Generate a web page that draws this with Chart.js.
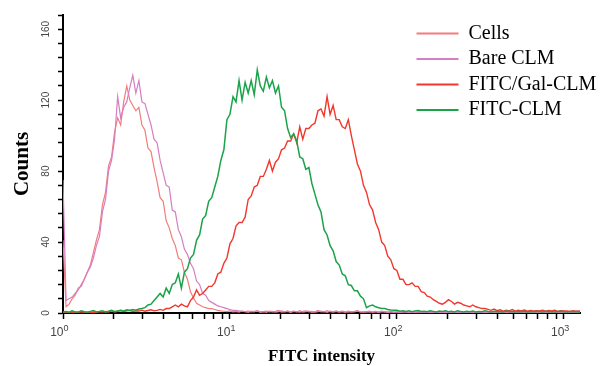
<!DOCTYPE html>
<html>
<head>
<meta charset="utf-8">
<script src="https://cdn.jsdelivr.net/npm/chart.js@4"></script>
<style>
  html, body { margin: 0; padding: 0; background: #fff; }
  #wrap { width: 607px; height: 366px; }
</style>
</head>
<body>
<div id="wrap"><canvas id="histogram" width="607" height="366"></canvas></div>
<script>
// FITC channel intensity, 55 channels per decade
const intensity = [
  1, 1.043, 1.087, 1.134, 1.182, 1.233, 1.286, 1.341, 1.398, 1.458,
  1.520, 1.585, 1.653, 1.723, 1.797, 1.874, 1.954, 2.037, 2.125, 2.215,
  2.310, 2.409, 2.512, 2.619, 2.731, 2.848, 2.970, 3.097, 3.229, 3.367,
  3.511, 3.661, 3.818, 3.981, 4.151, 4.329, 4.514, 4.707, 4.908, 5.118,
  5.336, 5.565, 5.802, 6.051, 6.310, 6.579, 6.860, 7.154, 7.460, 7.779,
  8.111, 8.458, 8.819, 9.196, 9.590, 10.00, 10.43, 10.87, 11.34, 11.82,
  12.33, 12.86, 13.41, 13.98, 14.58, 15.20, 15.85, 16.53, 17.23, 17.97,
  18.74, 19.54, 20.37, 21.25, 22.15, 23.10, 24.09, 25.12, 26.19, 27.31,
  28.48, 29.70, 30.97, 32.29, 33.67, 35.11, 36.61, 38.18, 39.81, 41.51,
  43.29, 45.14, 47.07, 49.08, 51.18, 53.36, 55.65, 58.02, 60.51, 63.10,
  65.79, 68.61, 71.54, 74.60, 77.79, 81.11, 84.58, 88.19, 91.96, 95.90,
  100.0, 104.3, 108.7, 113.4, 118.2, 123.3, 128.6, 134.1, 139.8, 145.8,
  152.0, 158.5, 165.3, 172.3, 179.7, 187.4, 195.4, 203.7, 212.5, 221.5,
  231.0, 240.9, 251.2, 261.9, 273.1, 284.8, 297.0, 309.7, 322.9, 336.7,
  351.1, 366.1, 381.8, 398.1, 415.1, 432.9, 451.4, 470.7, 490.8, 511.8,
  533.6, 556.5, 580.2, 605.1, 631.0, 657.9, 686.0, 715.4, 746.0, 777.9,
  811.1, 845.8, 881.9, 919.6, 959.0, 1000, 1043, 1087, 1134, 1182,
  1233, 1286
];

const cells = [
  41, 3.5, 5, 8, 10, 14, 15, 19, 23, 27,
  34, 41, 47, 61, 68, 83, 88, 102, 110, 106,
  119, 128, 120, 117, 114, 116, 106, 103, 93, 91,
  82, 74, 65, 63, 52, 48, 42, 38, 31, 30,
  23, 19, 12, 8.5, 5.5, 4.5, 3.5, 3, 2.5, 2.5,
  2, 1.5, 1.2, 1, 0.8, 1.2, 0.6, 0.9, 0.5, 1.1,
  0.7, 0.4, 1.0, 0.6, 1.3, 0.5, 0.8, 0.4, 1.1, 0.6,
  0.9, 1.4, 0.5, 0.7, 1.2, 0.4, 0.9, 0.6, 1.3, 0.5,
  0.8, 1.1, 0.4, 0.7, 1.5, 0.6, 0.9, 0.4, 1.0, 0.7,
  1.2, 0.5, 0.8, 0.4, 1.1, 0.6, 0.9, 1.3, 0.5, 0.7,
  0.6, 1.0, 0.4, 0.8, 0.5, 1.1, 0.6, 0.4, 0.9, 0.5,
  0.7, 0.4, 0.8, 0.5, 0.3, 0.6, 0.4, 0.7, 0.3, 0.5,
  0.4, 0.6, 0.3, 0.5, 0.4, 0.3, 0.6, 0.4, 0.3, 0.5,
  0.3, 0.4, 0.3, 0.5, 0.3, 0.4, 0.3, 0.3, 0.4, 0.3,
  0.3, 0.4, 0.3, 0.3, 0.4, 0.3, 0.3, 0.3, 0.4, 0.3,
  0.3, 0.3, 0.4, 0.3, 0.3, 0.3, 0.3, 0.4, 0.3, 0.3,
  0.3, 0.3, 0.4, 0.3, 0.3, 0.3, 0.3, 0.3, 0.4, 0.3,
  0.3, 0.3
];

const bareClm = [
  75, 7, 8, 9, 11, 13, 16, 19, 23, 26,
  31, 38, 43, 57, 64, 80, 86, 98, 122, 110,
  116, 119, 127, 134, 124, 131, 119, 118, 112, 106,
  98, 96, 86, 79, 72, 71, 58, 57, 47, 43,
  36, 33, 28, 25, 18, 16, 11, 10, 7, 6,
  5, 4, 3.5, 3, 2.5, 2, 1.5, 1.5, 1.2, 1.0,
  0.8, 1.1, 0.6, 0.9, 1.2, 0.5, 0.8, 1.0, 0.6, 0.9,
  0.5, 0.8, 1.2, 0.6, 0.9, 0.5, 1.1, 0.7, 0.5, 0.9,
  1.2, 0.6, 0.9, 0.5, 0.8, 1.0, 0.6, 1.3, 0.7, 0.5,
  0.9, 0.6, 1.1, 0.7, 0.5, 0.8, 0.6, 1.0, 0.7, 0.5,
  0.8, 0.5, 0.7, 0.9, 0.4, 0.6, 0.8, 0.5, 0.6, 0.4,
  0.6, 0.4, 0.5, 0.7, 0.4, 0.5, 0.3, 0.6, 0.4, 0.5,
  0.3, 0.5, 0.4, 0.3, 0.5, 0.3, 0.4, 0.3, 0.5, 0.3,
  0.4, 0.3, 0.3, 0.4, 0.3, 0.3, 0.4, 0.3, 0.3, 0.3,
  0.4, 0.3, 0.3, 0.3, 0.4, 0.3, 0.3, 0.3, 0.3, 0.4,
  0.3, 0.3, 0.3, 0.3, 0.3, 0.4, 0.3, 0.3, 0.3, 0.4,
  0.3, 0.3, 0.3, 0.4, 0.3, 0.3, 0.3, 0.3, 0.3, 0.3,
  0.3, 0.3
];

const fitcGalClm = [
  0.3, 0.5, 0.3, 0.6, 0.4, 0.3, 0.7, 0.4, 0.5, 0.3,
  0.6, 0.4, 0.8, 0.5, 0.9, 0.6, 1.2, 0.7, 1.0, 1.4,
  0.8, 1.2, 1.5, 0.9, 1.3, 1.1, 1.6, 1.0, 1.4, 1.8,
  1.2, 1.5, 2.0, 1.5, 2.5, 2.5, 3.5, 4.5, 3.5, 5.0,
  4.0, 3.5, 7.0, 9.0, 13, 10, 11, 13, 15, 15,
  17, 22, 23, 28, 31, 39, 42, 49, 51, 51,
  54, 64, 66, 71, 72, 77, 77, 81, 86, 80,
  85, 87, 92, 93, 97, 97, 101, 96, 105, 98,
  104, 104, 106, 107, 114, 115, 111, 122, 112, 117,
  109, 109, 105, 104, 109, 100, 92, 84, 80, 72,
  68, 61, 58, 51, 47, 40, 38, 32, 30, 25,
  24, 19, 19, 16, 16, 17, 15, 15, 12, 11.5,
  9.5, 9, 7.5, 6.5, 5.5, 5, 6, 7.5, 6.5, 5,
  6, 5.5, 4.5, 4, 3.5, 4.5, 3.5, 3, 2.5, 2.5,
  2, 1.5, 2.2, 1.3, 1.8, 1.1, 1.6, 1.2, 1.9, 1.0,
  1.5, 1.2, 1.7, 1.0, 1.4, 1.1, 1.3, 1.2, 1.6, 1.0,
  1.4, 1.1, 1.5, 0.9, 1.3, 1.1, 1.2, 0.9, 1.3, 1.0,
  1.2, 1.1
];

const fitcClm = [
  0.5, 0.8, 0.4, 1.2, 0.6, 0.5, 1.3, 0.7, 0.4, 0.9,
  1.4, 0.6, 0.8, 1.2, 0.5, 1.0, 1.5, 0.7, 1.1, 1.6,
  1.2, 1.8, 1.4, 2.0, 1.6, 2.2, 2.5, 3.0, 4.5, 5.0,
  7, 9, 11, 9, 14, 11, 16, 17, 22, 14,
  23, 25, 31, 33, 41, 44, 53, 55, 63, 65,
  71, 77, 86, 92, 109, 112, 122, 119, 131, 120,
  130, 124, 131, 123, 137, 128, 125, 133, 127, 131,
  124, 128, 116, 114, 104, 99, 101, 97, 88, 87,
  81, 82, 73, 67, 61, 57, 47, 44, 38, 35,
  29, 27, 22, 21, 16, 15.5, 12.5, 12.5, 9.5, 8,
  3, 4, 4.5, 3.5, 3, 2.5, 2.5, 2, 1.7, 1.5,
  1.5, 1.0, 1.3, 0.8, 1.2, 0.7, 1.1, 1.4, 0.8, 1.0,
  0.7, 1.2, 0.9, 0.6, 1.1, 0.8, 1.3, 0.7, 1.0, 0.6,
  1.2, 0.8, 0.6, 1.0, 0.7, 1.1, 0.6, 0.9, 0.7, 1.2,
  0.8, 0.6, 1.0, 0.7, 0.9, 0.6, 1.1, 0.7, 0.8, 0.6,
  0.9, 0.7, 1.0, 0.6, 0.8, 0.7, 0.9, 0.8, 0.6, 1.0,
  0.7, 0.9, 0.6, 0.8, 1.0, 0.7, 0.6, 0.9, 0.7, 0.8,
  0.6, 0.8
];

const xTickValues = [
  1, 2, 3, 4, 5, 6, 7, 8, 9,
  10, 20, 30, 40, 50, 60, 70, 80, 90,
  100, 200, 300, 400, 500, 600, 700, 800, 900,
  1000
];
const xDecades = [1, 10, 100, 1000];
const xExponents = ['0', '1', '2', '3'];
const yTickLabels = [0, 40, 80, 120, 160];

const toPoints = (ys) => intensity.map((x, i) => ({ x: x, y: ys[i] }));

// put the legend in the upper right corner of the plot
const legendMover = {
  id: 'legendMover',
  afterLayout(chart) {
    const lg = chart.legend;
    if (!lg) return;
    const w = lg.width, h = lg.height;
    lg.left = 411;
    lg.top = 18;
    lg.right = lg.left + w;
    lg.bottom = lg.top + h;
  }
};

// x labels as 10 with a raised exponent
const decadeLabels = {
  id: 'decadeLabels',
  afterDraw(chart) {
    const xs = chart.scales.x;
    const c = chart.ctx;
    const y = xs.top + 23;
    c.save();
    c.fillStyle = '#444';
    c.textBaseline = 'alphabetic';
    xDecades.forEach((v, i) => {
      const px = xs.getPixelForValue(v);
      c.font = '12px "Liberation Sans"';
      c.textAlign = 'right';
      c.fillText('10', px + 0.5, y);
      c.font = '9px "Liberation Sans"';
      c.textAlign = 'left';
      c.fillText(xExponents[i], px + 0.5, y - 5);
    });
    c.restore();
  }
};

const ctx = document.getElementById('histogram').getContext('2d');
new Chart(ctx, {
  type: 'line',
  data: {
    datasets: [
      { label: 'Cells', data: toPoints(cells), borderColor: '#F27D7B', backgroundColor: '#F27D7B', borderWidth: 1.2, order: 4 },
      { label: 'Bare CLM', data: toPoints(bareClm), borderColor: '#D77DC2', backgroundColor: '#D77DC2', borderWidth: 1.2, order: 3 },
      { label: 'FITC/Gal-CLM', data: toPoints(fitcGalClm), borderColor: '#F2372C', backgroundColor: '#F2372C', borderWidth: 1.4, order: 2 },
      { label: 'FITC-CLM', data: toPoints(fitcClm), borderColor: '#1BA34A', backgroundColor: '#1BA34A', borderWidth: 1.5, order: 1 }
    ]
  },
  options: {
    responsive: false,
    animation: false,
    layout: { padding: { left: 0, right: 27, top: 15, bottom: 0 } },
    elements: {
      point: { radius: 0 },
      line: { tension: 0, fill: false }
    },
    plugins: {
      tooltip: { enabled: false },
      legend: {
        position: 'chartArea',
        align: 'start',
        labels: {
          boxWidth: 42,
          boxHeight: 2,
          padding: 5.5,
          color: '#000',
          font: { family: 'Liberation Serif', size: 20 },
          generateLabels(chart) {
            return chart.data.datasets.map((ds, i) => ({
              text: ds.label,
              fillStyle: ds.borderColor,
              strokeStyle: ds.borderColor,
              lineWidth: 0,
              hidden: false,
              datasetIndex: i
            }));
          }
        }
      }
    },
    scales: {
      x: {
        type: 'logarithmic',
        min: 1,
        max: 1250,
        afterBuildTicks(scale) {
          scale.ticks = xTickValues.map(v => ({ value: v }));
        },
        afterFit(scale) { scale.height = 53; },
        ticks: {
          autoSkip: false,
          maxRotation: 0,
          minRotation: 0,
          callback: () => ''
        },
        grid: { drawOnChartArea: false, drawTicks: true, tickLength: 6, tickColor: '#000', tickWidth: 1.5 },
        border: { color: '#000', width: 2 },
        title: {
          display: true,
          text: 'FITC intensity',
          color: '#000',
          font: { family: 'Liberation Serif', size: 17, weight: 'bold' },
          padding: { top: 0, bottom: -1 }
        }
      },
      y: {
        min: 0,
        max: 168,
        afterFit(scale) { scale.width = 63; },
        ticks: {
          stepSize: 8,
          autoSkip: false,
          minRotation: 90,
          maxRotation: 90,
          crossAlign: 'center',
          padding: 3,
          color: '#444',
          font: { family: 'Liberation Sans', size: 10 },
          callback: (v) => yTickLabels.includes(v) ? String(v) : ''
        },
        grid: { drawOnChartArea: false, drawTicks: true, tickLength: 5, tickColor: '#000', tickWidth: 1.5 },
        border: { color: '#000', width: 2 },
        title: {
          display: true,
          text: 'Counts',
          color: '#000',
          font: { family: 'Liberation Serif', size: 21, weight: 'bold' },
          padding: { top: 10, bottom: 0 }
        }
      }
    }
  },
  plugins: [legendMover, decadeLabels]
});
</script>
</body>
</html>
